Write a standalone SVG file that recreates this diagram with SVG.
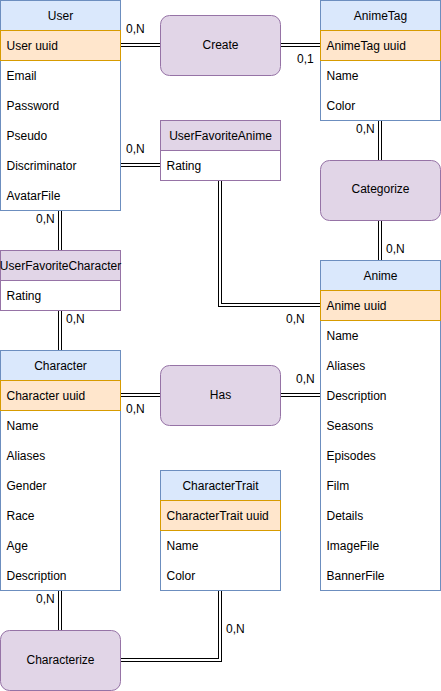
<svg xmlns="http://www.w3.org/2000/svg" width="441" height="691" viewBox="0 0 441 691">
<style>
text{font-family:"Liberation Sans",Arial,Helvetica,sans-serif;font-size:12px;fill:#000}
.c{text-anchor:middle}
.ent{fill:#fff;stroke:#6c8ebf}
.eh{fill:#dae8fc;stroke:#6c8ebf}
.pk{fill:#ffe6cc;stroke:#d79b00}
.rel{fill:#e1d5e7;stroke:#9673a6}
.ab{fill:#fff;stroke:#9673a6}
.lo{fill:none;stroke:#000;stroke-width:4}
.li{fill:none;stroke:#fff;stroke-width:2}
</style>
<rect width="441" height="691" fill="#fff"/>
<g id="connectors">
<g class="outer">
<path class="lo" d="M120,45H160"/>
<path class="lo" d="M280,45H320"/>
<path class="lo" d="M120,165H160"/>
<path class="lo" d="M60,210V250"/>
<path class="lo" d="M60,310V350"/>
<path class="lo" d="M220,180V305H320"/>
<path class="lo" d="M380,120V160"/>
<path class="lo" d="M380,220V260"/>
<path class="lo" d="M120,395H160"/>
<path class="lo" d="M280,395H320"/>
<path class="lo" d="M60,590V630"/>
<path class="lo" d="M220,590V660H120"/>
</g>
<g class="inner">
<path class="li" d="M119,45H161"/>
<path class="li" d="M279,45H321"/>
<path class="li" d="M119,165H161"/>
<path class="li" d="M60,209V251"/>
<path class="li" d="M60,309V351"/>
<path class="li" d="M220,179V305H321"/>
<path class="li" d="M380,119V161"/>
<path class="li" d="M380,219V261"/>
<path class="li" d="M119,395H161"/>
<path class="li" d="M279,395H321"/>
<path class="li" d="M60,589V631"/>
<path class="li" d="M220,589V660H119"/>
</g>
<g class="labels">
<text x="126" y="33">0,N</text>
<text x="297" y="63">0,1</text>
<text x="126" y="153">0,N</text>
<text x="36" y="223">0,N</text>
<text x="66" y="323">0,N</text>
<text x="126" y="413">0,N</text>
<text x="356" y="133">0,N</text>
<text x="386" y="253">0,N</text>
<text x="286" y="323">0,N</text>
<text x="296" y="383">0,N</text>
<text x="36" y="603">0,N</text>
<text x="226" y="633">0,N</text>
</g>
</g>
<g transform="translate(0.5,0.5)">
<g id="User">
<rect class="ent" x="0" y="0" width="120" height="210"/>
<rect class="eh" x="0" y="0" width="120" height="30"/>
<rect class="pk" x="0" y="30" width="120" height="30"/>
<text class="c" x="60" y="19">User</text>
<text x="6" y="49">User uuid</text>
<text x="6" y="79">Email</text>
<text x="6" y="109">Password</text>
<text x="6" y="139">Pseudo</text>
<text x="6" y="169">Discriminator</text>
<text x="6" y="199">AvatarFile</text>
</g>
<g id="Create">
<rect class="rel" x="160" y="15" width="120" height="60" rx="9"/>
<text class="c" x="220" y="48">Create</text>
</g>
<g id="AnimeTag">
<rect class="ent" x="320" y="0" width="120" height="120"/>
<rect class="eh" x="320" y="0" width="120" height="30"/>
<rect class="pk" x="320" y="30" width="120" height="30"/>
<text class="c" x="380" y="19">AnimeTag</text>
<text x="326" y="49">AnimeTag uuid</text>
<text x="326" y="79">Name</text>
<text x="326" y="109">Color</text>
</g>
<g id="UserFavoriteAnime">
<rect class="ab" x="160" y="120" width="120" height="60"/>
<rect class="rel" x="160" y="120" width="120" height="30"/>
<text class="c" x="220" y="139">UserFavoriteAnime</text>
<text x="166" y="169">Rating</text>
</g>
<g id="Categorize">
<rect class="rel" x="320" y="160" width="120" height="60" rx="9"/>
<text class="c" x="380" y="192">Categorize</text>
</g>
<g id="UserFavoriteCharacter">
<rect class="ab" x="0" y="250" width="120" height="60"/>
<rect class="rel" x="0" y="250" width="120" height="30"/>
<text class="c" x="60" y="269">UserFavoriteCharacter</text>
<text x="6" y="299">Rating</text>
</g>
<g id="Anime">
<rect class="ent" x="320" y="260" width="120" height="330"/>
<rect class="eh" x="320" y="260" width="120" height="30"/>
<rect class="pk" x="320" y="290" width="120" height="30"/>
<text class="c" x="380" y="279">Anime</text>
<text x="326" y="309">Anime uuid</text>
<text x="326" y="339">Name</text>
<text x="326" y="369">Aliases</text>
<text x="326" y="399">Description</text>
<text x="326" y="429">Seasons</text>
<text x="326" y="459">Episodes</text>
<text x="326" y="489">Film</text>
<text x="326" y="519">Details</text>
<text x="326" y="549">ImageFile</text>
<text x="326" y="579">BannerFile</text>
</g>
<g id="Character">
<rect class="ent" x="0" y="350" width="120" height="240"/>
<rect class="eh" x="0" y="350" width="120" height="30"/>
<rect class="pk" x="0" y="380" width="120" height="30"/>
<text class="c" x="60" y="369">Character</text>
<text x="6" y="399">Character uuid</text>
<text x="6" y="429">Name</text>
<text x="6" y="459">Aliases</text>
<text x="6" y="489">Gender</text>
<text x="6" y="519">Race</text>
<text x="6" y="549">Age</text>
<text x="6" y="579">Description</text>
</g>
<g id="Has">
<rect class="rel" x="160" y="365" width="120" height="60" rx="9"/>
<text class="c" x="220" y="398">Has</text>
</g>
<g id="CharacterTrait">
<rect class="ent" x="160" y="470" width="120" height="120"/>
<rect class="eh" x="160" y="470" width="120" height="30"/>
<rect class="pk" x="160" y="500" width="120" height="30"/>
<text class="c" x="220" y="489">CharacterTrait</text>
<text x="166" y="519">CharacterTrait uuid</text>
<text x="166" y="549">Name</text>
<text x="166" y="579">Color</text>
</g>
<g id="Characterize">
<rect class="rel" x="0" y="630" width="120" height="60" rx="9"/>
<text class="c" x="60" y="663">Characterize</text>
</g>
</g>
</svg>
